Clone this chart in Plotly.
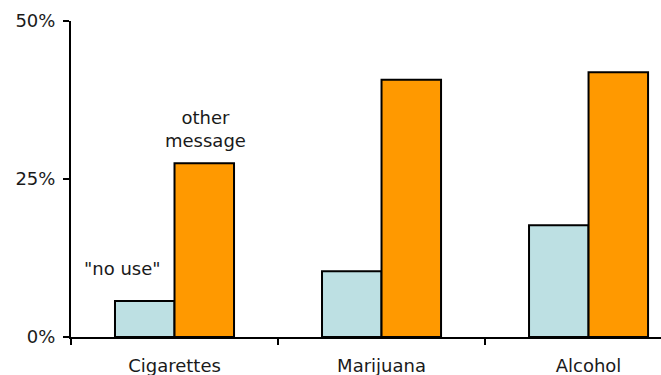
import plotly.graph_objects as go

categories = ["Cigarettes", "Marijuana", "Alcohol"]
no_use = [5.7, 10.4, 17.7]
other_message = [27.5, 40.7, 41.9]
y_ticks = [0, 25, 50]
y_tick_labels = ["0%", "25%", "50%"]

xpos = list(range(len(categories)))
font = dict(family="DejaVu Sans, Verdana, sans-serif", size=18, color="#1a1a1a")

fig = go.Figure()
fig.add_bar(x=xpos, y=no_use, name='"no use"', marker=dict(color="#BDE0E3", line=dict(color="black", width=2)))
fig.add_bar(x=xpos, y=other_message, name="other message", marker=dict(color="#FF9900", line=dict(color="black", width=2)))

fig.add_annotation(x=-0.25, y=10.9, text='"no use"', showarrow=False, font=font, xref="x", yref="y")
fig.add_annotation(x=0.15, y=32.9, text="other<br>message", showarrow=False, font=font, xref="x", yref="y")

fig.update_layout(
    width=661, height=375,
    margin=dict(l=71, r=0, t=21, b=38),
    paper_bgcolor="white", plot_bgcolor="white",
    barmode="group", bargap=0.425, bargroupgap=0,
    showlegend=False,
    font=font,
    xaxis=dict(
        range=[-0.5, 2.35], tickvals=xpos, ticktext=categories, ticks="",
        showline=True, linecolor="black", linewidth=2, showgrid=False, zeroline=False,
        minor=dict(tickvals=[-0.5, 0.5, 1.5], ticks="outside", ticklen=6, tickwidth=2, tickcolor="black", showgrid=False),
        tickfont=font, fixedrange=True, ticklabelstandoff=11,
    ),
    yaxis=dict(
        range=[0, 50], tickvals=y_ticks, ticktext=y_tick_labels, ticks="outside", ticklen=6,
        tickwidth=2, tickcolor="black", showline=True, linecolor="black", linewidth=2,
        showgrid=False, zeroline=False, tickfont=font, ticklabelstandoff=4,
    ),
)

fig.write_html("out.html")
